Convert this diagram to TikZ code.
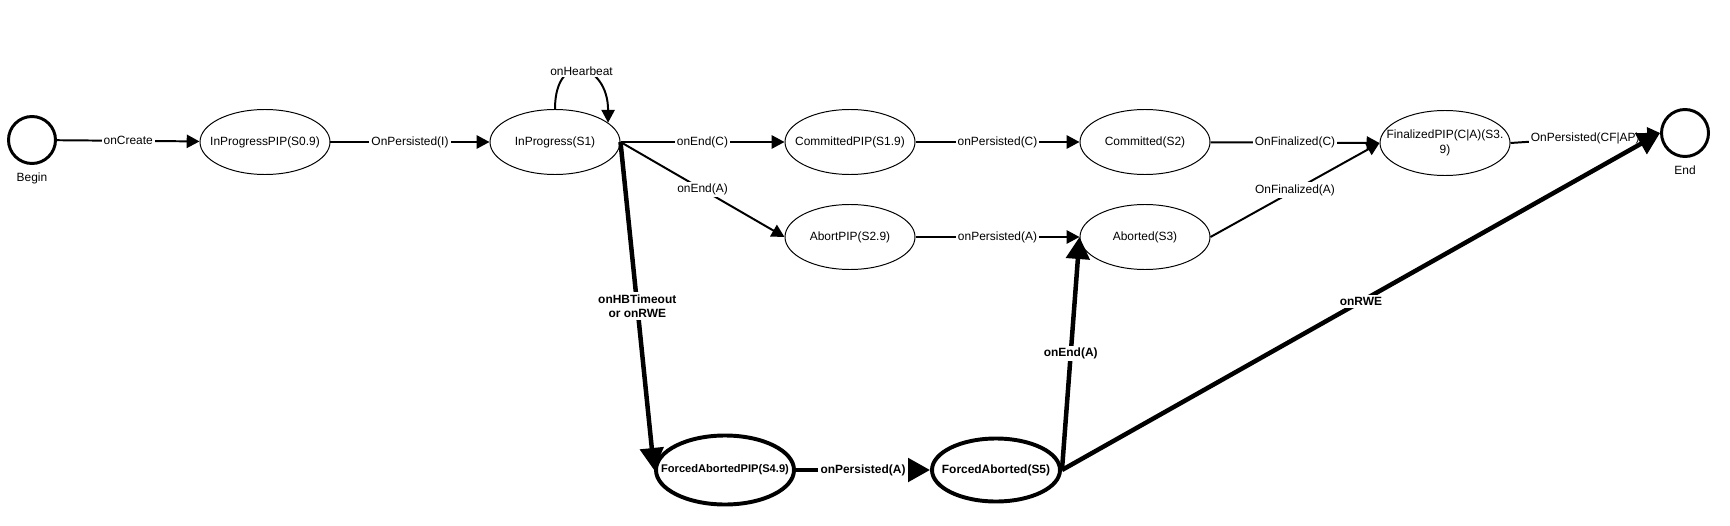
\documentclass[tikz,border=0pt]{standalone}
\usepackage{fontspec}
\setmainfont{Liberation Sans}
\usetikzlibrary{arrows.meta,positioning,shapes.geometric}
\tikzset{
  state/.style={ellipse,draw,line width=0.7pt,minimum width=3.25cm,minimum height=1.625cm,inner sep=0pt},
  forced/.style={ellipse,draw,line width=2.8pt,inner sep=0pt},
  term/.style={circle,draw,line width=2.1pt,minimum size=1.175cm,inner sep=0pt},
  txt/.style={font=\fontsize{8.5}{11}\selectfont,align=center,inner sep=0pt},
  btxt/.style={txt,font=\bfseries\fontsize{8.5}{11}\selectfont},
  lbl/.style={midway,fill=white,inner sep=1.5pt,font=\fontsize{8.5}{10}\selectfont,align=center},
  blbl/.style={lbl,font=\bfseries\fontsize{8.5}{10}\selectfont},
  arr/.style={-{Triangle[length=3.2mm,width=3.3mm]},line width=1.4pt},
  arrthick/.style={-{Triangle[length=5.5mm,width=5.8mm]},line width=3.2pt}
}
\begin{document}
\begin{tikzpicture}[x=1cm,y=1cm]
\path[use as bounding box] (0,0) rectangle (43.25,13.125);
% states, top row
\node[term] (begin) at (0.8,9.625) {};
\node[txt,below=0.2cm of begin] (begin-t) {Begin};
\node[state] (ippip) at (6.625,9.575) {}; \node[txt] (ippip-t) at (ippip) {InProgressPIP(S0.9)};
\node[state] (ip) at (13.875,9.575) {}; \node[txt] (ip-t) at (ip) {InProgress(S1)};
\node[state] (cpip) at (21.25,9.575) {}; \node[txt] (cpip-t) at (cpip) {CommittedPIP(S1.9)};
\node[state] (com) at (28.625,9.575) {}; \node[txt] (com-t) at (com) {Committed(S2)};
\node[state] (fin) at (36.125,9.55) {}; \node[txt] (fin-t) at (fin) {FinalizedPIP(C|A)(S3.\\9)};
\node[term] (endst) at (42.125,9.8) {};
\node[txt,below=0.2cm of endst] (endst-t) {End};
% abort row
\node[state] (apip) at (21.25,7.2) {}; \node[txt] (apip-t) at (apip) {AbortPIP(S2.9)};
\node[state] (ab) at (28.625,7.2) {}; \node[txt] (ab-t) at (ab) {Aborted(S3)};
% forced abort row
\node[forced,minimum width=3.45cm,minimum height=1.725cm] (fapip) at (18.125,1.375) {};
\node[btxt,font=\bfseries\fontsize{7.9}{10}\selectfont] (fapip-t) at (fapip) {ForcedAbortedPIP(S4.9)};
\node[forced,minimum width=3.2cm,minimum height=1.575cm] (fa) at (24.9,1.375) {};
\node[btxt] (fa-t) at (fa) {ForcedAborted(S5)};
% transitions
\draw[arr] (begin) -- (ippip) node[lbl] {onCreate};
\draw[arr] (ippip) -- (ip) node[lbl] {OnPersisted(I)};
\draw[arr] (ip.north) .. controls +(0,1.5) and +(0,1.5) .. (ip.20) node[lbl] {onHearbeat};
\draw[arr] (ip.east) -- (cpip) node[lbl] {onEnd(C)};
\draw[arr] (ip.east) -- (apip.west) node[lbl] {onEnd(A)};
\draw[arr] (cpip) -- (com) node[lbl] {onPersisted(C)};
\draw[arr] (com) -- (fin.west) node[lbl] {OnFinalized(C)};
\draw[arr] (apip) -- (ab) node[lbl] {onPersisted(A)};
\draw[arr] (ab.east) -- (fin.west) node[lbl] {OnFinalized(A)};
\draw[arr] (fin.east) -- (endst.west) node[lbl] {OnPersisted(CF|AP)};
% forced path
\draw[arrthick] (ip.east) -- (fapip.west) node[blbl] {onHBTimeout\\ or onRWE};
\draw[arrthick] (fapip) -- (fa) node[blbl] {onPersisted(A)};
\draw[arrthick] (fa.east) -- (ab.west) node[blbl] {onEnd(A)};
\draw[arrthick] (fa.east) -- (endst.west) node[blbl] {onRWE};
\end{tikzpicture}
\end{document}
